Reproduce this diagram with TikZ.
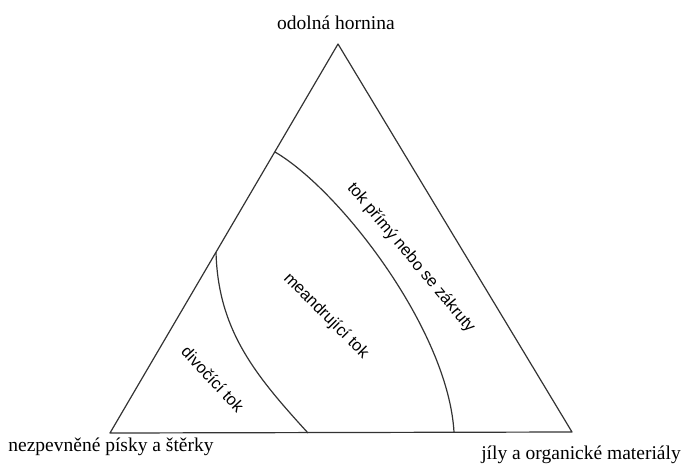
\documentclass[tikz,border=0pt]{standalone}
\usepackage{fontspec}
\setmainfont{Liberation Serif}
\newfontfamily\lsans{Liberation Sans}
\begin{document}
\begin{tikzpicture}[x=1pt,y=-1pt,
  edge/.style={line width=1.2pt, draw=black!80, line join=round},
  corner/.style={font=\fontsize{19.5}{22}\selectfont, anchor=base, inner sep=0pt},
  region/.style={font=\lsans\fontsize{16.5}{18}\selectfont, inner sep=0pt}]
\useasboundingbox (0,0) rectangle (683,464);
\coordinate (A) at (338,44);
\coordinate (L) at (110,433);
\coordinate (R) at (572,432);
\draw[edge] (L) -- (A) -- (R) -- cycle;
\coordinate (u1) at (275,152);
\coordinate (u2) at (454,432);
\draw[edge] (u1) .. controls (340,190) and (448,330) .. (u2);
\coordinate (v1) at (216,252);
\coordinate (v2) at (308,433);
\draw[edge] (v1) .. controls (218,330) and (255,375) .. (v2);
\node[corner] (top) at (336,29) {odolná hornina};
\node[corner] (bl) at (111,451) {nezpevněné písky a štěrky};
\node[corner] (br) at (581,459) {jíly a organické materiály};
\node[region, rotate=-50] (straight) at (411,258) {tok přímý nebo se zákruty};
\node[region, rotate=-45] (meander) at (326,316) {meandrující tok};
\node[region, rotate=-47] (braided) at (213,379) {divočící tok};
\end{tikzpicture}
\end{document}
